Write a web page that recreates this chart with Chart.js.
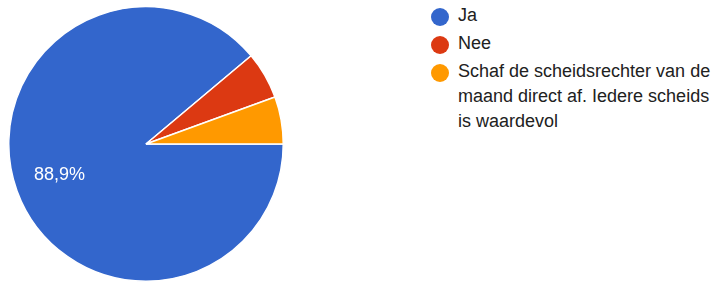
<!DOCTYPE html>
<html>
<head>
<meta charset="utf-8">
<script src="https://cdn.jsdelivr.net/npm/chart.js@4"></script>
<style>
  body { margin: 0; background: #fff; font-family: "Liberation Sans", Arial, sans-serif; }
  .wrap { position: relative; width: 716px; height: 282px; }
  .pie { position: absolute; left: 0; top: 0; width: 294px; height: 282px; }
  #legend { position: absolute; left: 430px; top: 3px; width: 290px; list-style: none; margin: 0; padding: 0; color: #212121; font-size: 18px; line-height: 25px; }
  #legend li { position: relative; padding-left: 28px; margin-bottom: 3px; white-space: nowrap; }
  #legend span { position: absolute; left: 1px; top: 5px; width: 18px; height: 18px; border-radius: 50%; }
</style>
</head>
<body>
<div class="wrap">
  <div class="pie"><canvas id="myPie"></canvas></div>
  <ul id="legend"></ul>
</div>
<script>
var labels = ["Ja", "Nee", "Schaf de scheidsrechter van de maand direct af. Iedere scheids is waardevol"];
var legendLines = [["Ja"], ["Nee"], ["Schaf de scheidsrechter van de", "maand direct af. Iedere scheids", "is waardevol"]];
var counts = [16, 1, 1];
var colors = ['#3366CC', '#DC3912', '#FF9900'];

// legend on the right, wrapped like the original
var ul = document.getElementById("legend");
legendLines.forEach(function(lines, i) {
    var li = document.createElement("li");
    var dot = document.createElement("span");
    dot.style.background = colors[i];
    li.appendChild(dot);
    lines.forEach(function(t, j) {
        if (j > 0) li.appendChild(document.createElement("br"));
        li.appendChild(document.createTextNode(t));
    });
    ul.appendChild(li);
});

// percent label inside big slices
var pctLabels = {
    id: 'pctLabels',
    afterDatasetsDraw: function(chart) {
        var ctx = chart.ctx;
        var meta = chart.getDatasetMeta(0);
        var total = counts.reduce(function(a, b) { return a + b; }, 0);
        meta.data.forEach(function(arc, i) {
            var pct = counts[i] / total * 100;
            if (pct < 10) return;
            var mid = (arc.startAngle + arc.endAngle) / 2;
            var r = arc.outerRadius * 0.67;
            ctx.save();
            ctx.fillStyle = '#fff';
            ctx.font = '18px "Liberation Sans", Arial, sans-serif';
            ctx.textAlign = 'center';
            ctx.textBaseline = 'middle';
            ctx.fillText(pct.toFixed(1).replace('.', ',') + '%', arc.x + Math.cos(mid) * r, arc.y + Math.sin(mid) * r);
            ctx.restore();
        });
    }
};

const ctp = document.getElementById('myPie');
new Chart(ctp, {
    type: 'pie',
    data: {
        labels: labels,
        datasets: [{
            data: counts,
            backgroundColor: colors,
            borderColor: '#fff',
            borderWidth: 1.5
        }]
    },
    options: {
        responsive: true,
        maintainAspectRatio: false,
        animation: false,
        rotation: 90,
        layout: { padding: { left: 8, right: 10, top: 6, bottom: 0 } },
        plugins: {
            legend: { display: false },
            tooltip: { enabled: false }
        }
    },
    plugins: [pctLabels]
});
</script>
</body>
</html>
